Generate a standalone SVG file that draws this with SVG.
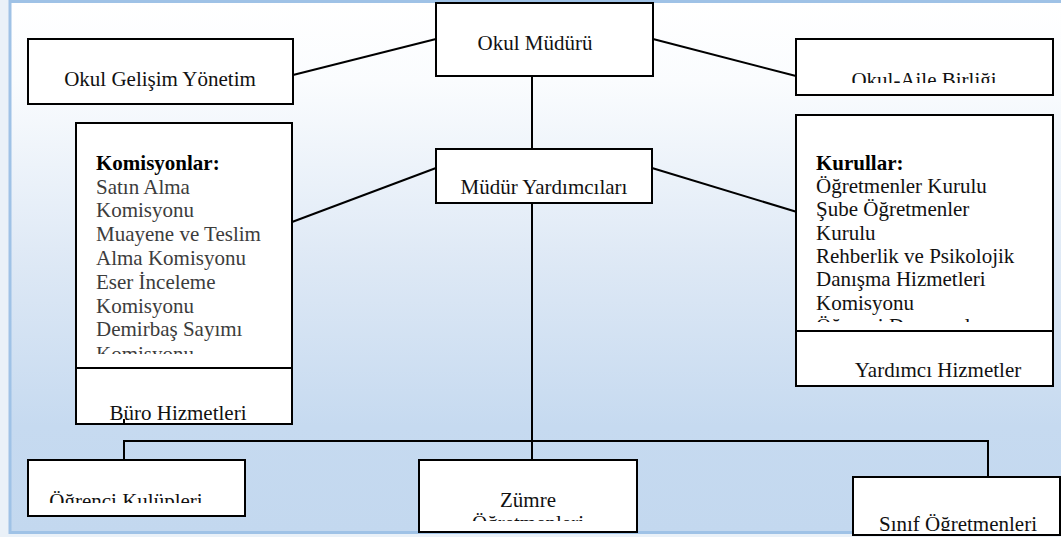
<svg xmlns="http://www.w3.org/2000/svg" width="1061" height="537" viewBox="0 0 1061 537">
<defs>
<linearGradient id="bg" x1="0" y1="0" x2="0" y2="1">
<stop offset="0" stop-color="#ffffff"/>
<stop offset="0.15" stop-color="#fafcfe"/>
<stop offset="0.5" stop-color="#dde8f5"/>
<stop offset="0.8" stop-color="#c6daf0"/>
<stop offset="1" stop-color="#c3d8ef"/>
</linearGradient>
<clipPath id="cAile"><rect x="796" y="39" width="257" height="44"/></clipPath>
<clipPath id="cKom"><rect x="76" y="123" width="216" height="231"/></clipPath>
<clipPath id="cKur"><rect x="796" y="115" width="257" height="207"/></clipPath>
<clipPath id="cOgr"><rect x="28" y="460" width="217" height="43"/></clipPath>
<clipPath id="cZum"><rect x="419" y="460" width="218" height="61"/></clipPath>
<clipPath id="cSin"><rect x="853" y="477" width="208" height="54"/></clipPath>
</defs>
<style>
.box{fill:#ffffff;stroke:#000000;stroke-width:2}
.t{font-family:"Liberation Serif","Times New Roman",serif;font-size:21px;fill:#111111}
.c{text-anchor:middle}
.g{fill:#3c3c3c}
.b{font-weight:bold;fill:#000000}
.ln{stroke:#000000;stroke-width:2;fill:none}
</style>
<rect x="0" y="0" width="1061" height="537" fill="#eaf1f8"/>
<rect x="10" y="1.5" width="1060" height="531" fill="url(#bg)" stroke="#9fc2e6" stroke-width="3"/>

<g id="connectors">
<line class="ln" x1="293" y1="75" x2="436" y2="39"/>
<line class="ln" x1="653" y1="39" x2="796" y2="76"/>
<line class="ln" x1="532" y1="76" x2="532" y2="149"/>
<line class="ln" x1="292" y1="222" x2="436" y2="168"/>
<line class="ln" x1="652" y1="168" x2="797" y2="212"/>
<line class="ln" x1="532" y1="203" x2="532" y2="460"/>
<polyline class="ln" points="124,460 124,441 988,441 988,477"/>
</g>

<g id="okul-muduru">
<rect class="box" x="436" y="3" width="217" height="73"/>
<text class="t c" x="535" y="50">Okul Müdürü</text>
</g>

<g id="okul-gelisim">
<rect class="box" x="28" y="39" width="265" height="65"/>
<text class="t c" x="160" y="86">Okul Gelişim Yönetim</text>
</g>

<g id="okul-aile">
<rect class="box" x="796" y="39" width="257" height="56"/>
<text class="t c" x="924" y="87" clip-path="url(#cAile)">Okul-Aile Birliği</text>
</g>

<g id="mudur-yardimcilari">
<rect class="box" x="436" y="149" width="216" height="54"/>
<text class="t c" x="544" y="194">Müdür Yardımcıları</text>
</g>

<g id="komisyonlar">
<rect class="box" x="76" y="123" width="216" height="301"/>
<line class="ln" x1="76" y1="368" x2="292" y2="368"/>
<g clip-path="url(#cKom)">
<text class="t b" x="96" y="170">Komisyonlar:</text>
<text class="t g" x="96" y="194">Satın Alma</text>
<text class="t g" x="96" y="217">Komisyonu</text>
<text class="t g" x="96" y="241">Muayene ve Teslim</text>
<text class="t g" x="96" y="265">Alma Komisyonu</text>
<text class="t g" x="96" y="289">Eser İnceleme</text>
<text class="t g" x="96" y="313">Komisyonu</text>
<text class="t g" x="96" y="336">Demirbaş Sayımı</text>
<text class="t g" x="96" y="361">Komisyonu</text>
</g>
<text class="t c" x="178" y="420">Büro Hizmetleri</text>
<line class="ln" x1="124" y1="419" x2="124" y2="424"/>
</g>

<g id="kurullar">
<rect class="box" x="796" y="115" width="257" height="271"/>
<line class="ln" x1="796" y1="331" x2="1053" y2="331"/>
<g clip-path="url(#cKur)">
<text class="t b" x="816" y="170">Kurullar:</text>
<text class="t" x="816" y="193">Öğretmenler Kurulu</text>
<text class="t" x="816" y="216">Şube Öğretmenler</text>
<text class="t" x="816" y="240">Kurulu</text>
<text class="t" x="816" y="263">Rehberlik ve Psikolojik</text>
<text class="t" x="816" y="286">Danışma Hizmetleri</text>
<text class="t" x="816" y="310">Komisyonu</text>
<text class="t" x="816" y="333">Öğrenci Davranışları</text>
</g>
<text class="t c" x="938" y="377">Yardımcı Hizmetler</text>
</g>

<g id="ogrenci-kulupleri">
<rect class="box" x="28" y="460" width="217" height="56"/>
<text class="t c" x="126" y="508" clip-path="url(#cOgr)">Öğrenci Kulüpleri</text>
</g>

<g id="zumre">
<rect class="box" x="419" y="460" width="218" height="72"/>
<g clip-path="url(#cZum)">
<text class="t c" x="528" y="507">Zümre</text>
<text class="t c" x="528" y="530">Öğretmenleri</text>
</g>
</g>

<g id="sinif-ogretmenleri">
<rect class="box" x="853" y="477" width="207" height="58"/>
<text class="t c" x="958" y="531" clip-path="url(#cSin)">Sınıf Öğretmenleri</text>
</g>
</svg>
